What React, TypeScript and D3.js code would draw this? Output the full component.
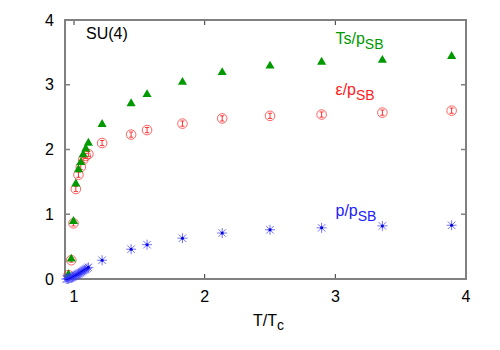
import { useEffect, useRef } from "react";
import * as d3 from "d3";

// Ts / p_SB
const tEntropy = [0.958, 0.979, 0.996, 1.014, 1.034, 1.052, 1.07, 1.09, 1.11, 1.215, 1.437, 1.559, 1.83, 2.134, 2.5, 2.895, 3.36, 3.89];
const entropy = [0.07, 0.31, 0.89, 1.47, 1.69, 1.80, 1.92, 2.01, 2.10, 2.39, 2.71, 2.85, 3.04, 3.19, 3.29, 3.35, 3.38, 3.44];

// eps / p_SB
const tEnergy = [0.958, 0.979, 0.996, 1.014, 1.034, 1.052, 1.07, 1.09, 1.11, 1.215, 1.437, 1.559, 1.83, 2.134, 2.5, 2.895, 3.36, 3.89];
const energy = [0.06, 0.29, 0.86, 1.39, 1.61, 1.73, 1.84, 1.90, 1.93, 2.10, 2.23, 2.30, 2.40, 2.48, 2.52, 2.54, 2.57, 2.60];
const energyErr = [0.03, 0.03, 0.04, 0.04, 0.04, 0.04, 0.04, 0.04, 0.04, 0.04, 0.04, 0.04, 0.04, 0.04, 0.04, 0.04, 0.04, 0.04];

// p / p_SB
const tPressure = [0.94, 0.95, 0.958, 0.968, 0.979, 0.988, 0.996, 1.005, 1.014, 1.024, 1.034, 1.043, 1.052, 1.06, 1.07, 1.08, 1.09, 1.1, 1.11, 1.215, 1.437, 1.559, 1.83, 2.134, 2.5, 2.895, 3.36, 3.89];
const pressure = [0.0, 0.003, 0.005, 0.012, 0.02, 0.03, 0.04, 0.05, 0.06, 0.07, 0.08, 0.09, 0.10, 0.115, 0.13, 0.14, 0.15, 0.165, 0.18, 0.29, 0.46, 0.53, 0.63, 0.71, 0.76, 0.79, 0.82, 0.83];

const xTicks = [1, 2, 3, 4];
const yTicks = [0, 1, 2, 3, 4];

export default function App() {
    const svgRef = useRef<SVGSVGElement>(null);

    useEffect(() => {
        if (!svgRef.current) return;
        const svg = d3.select(svgRef.current);
        svg.selectAll("*").remove();

        const margin = { top: 20, right: 34, bottom: 71, left: 65 };
        const W = 500, H = 350;
        const width = W - margin.left - margin.right;
        const height = H - margin.top - margin.bottom;
        const font = "'Liberation Sans', Arial, sans-serif";

        const g = svg.append("g").attr("transform", `translate(${margin.left},${margin.top})`);

        const x = d3.scaleLinear().domain([0.931, 4]).range([0, width]);
        const y = d3.scaleLinear().domain([0, 4]).range([height, 0]);

        const frameColor = "#808080";
        const tickLen = 5;

        // Ticks (inside, mirrored)
        xTicks.forEach(t => {
            g.append("line").attr("x1", x(t)).attr("x2", x(t)).attr("y1", height).attr("y2", height - tickLen)
                .attr("stroke", "#333").attr("stroke-width", 1);
            g.append("line").attr("x1", x(t)).attr("x2", x(t)).attr("y1", 0).attr("y2", tickLen)
                .attr("stroke", "#333").attr("stroke-width", 1);
            g.append("text").attr("x", x(t)).attr("y", height + 23).attr("text-anchor", "middle")
                .attr("font-family", font).attr("font-size", "16px").attr("fill", "#000").text(t);
        });
        yTicks.forEach(t => {
            g.append("line").attr("x1", 0).attr("x2", tickLen).attr("y1", y(t)).attr("y2", y(t))
                .attr("stroke", frameColor).attr("stroke-width", 1.5);
            g.append("line").attr("x1", width).attr("x2", width - tickLen).attr("y1", y(t)).attr("y2", y(t))
                .attr("stroke", frameColor).attr("stroke-width", 1.5);
            g.append("text").attr("x", -11).attr("y", y(t) + 5.5).attr("text-anchor", "end")
                .attr("font-family", font).attr("font-size", "16px").attr("fill", "#000").text(t);
        });

        // Frame
        g.append("rect").attr("x", 0).attr("y", 0).attr("width", width).attr("height", height)
            .attr("fill", "none").attr("stroke", frameColor).attr("stroke-width", 2);

        // Energy (red circles with error bars)
        const red = "#ff3030";
        tEnergy.forEach((t, i) => {
            const cx = x(t), cy = y(energy[i]);
            const e0 = y(energy[i] - energyErr[i]), e1 = y(energy[i] + energyErr[i]);
            g.append("circle").attr("cx", cx).attr("cy", cy).attr("r", 4.8)
                .attr("fill", "none").attr("stroke", red).attr("stroke-width", 1).attr("opacity", 0.75);
            g.append("line").attr("x1", cx).attr("x2", cx).attr("y1", e0).attr("y2", e1).attr("stroke", red).attr("stroke-width", 1);
            g.append("line").attr("x1", cx - 2).attr("x2", cx + 2).attr("y1", e0).attr("y2", e0).attr("stroke", red).attr("stroke-width", 1);
            g.append("line").attr("x1", cx - 2).attr("x2", cx + 2).attr("y1", e1).attr("y2", e1).attr("stroke", red).attr("stroke-width", 1);
        });

        // Entropy (green triangles)
        const tri = d3.symbol().type(d3.symbolTriangle).size(36)();
        tEntropy.forEach((t, i) => {
            g.append("path").attr("d", tri)
                .attr("transform", `translate(${x(t)},${y(entropy[i])})`)
                .attr("fill", "#009a00");
        });

        // Pressure (blue stars)
        const blue = "#3a3aff";
        const s = 5;
        tPressure.forEach((t, i) => {
            const cx = x(t), cy = y(pressure[i]);
            const arms = [[-s, 0, s, 0], [0, -s, 0, s], [-s * 0.75, -s * 0.75, s * 0.75, s * 0.75], [-s * 0.75, s * 0.75, s * 0.75, -s * 0.75]];
            arms.forEach(([a, b, c, d]) => {
                g.append("line").attr("x1", cx + a).attr("y1", cy + b).attr("x2", cx + c).attr("y2", cy + d)
                    .attr("stroke", blue).attr("stroke-width", 1).attr("opacity", 0.7);
            });
            g.append("circle").attr("cx", cx).attr("cy", cy).attr("r", 1.5).attr("fill", "#0000dd");
        });

        // Series labels
        const label = (px: number, py: number, main: string, color: string) => {
            const txt = g.append("text").attr("x", px).attr("y", py).attr("font-family", font)
                .attr("font-size", "16px").attr("fill", color);
            txt.append("tspan").text(main);
            txt.append("tspan").attr("dy", 5).attr("font-size", "14px").text("SB");
        };
        label(335.5 - margin.left, 44 - margin.top, "Ts/p", "#009a00");
        label(335.5 - margin.left, 95 - margin.top, "\u03b5/p", "#ff2020");
        label(335.5 - margin.left, 216 - margin.top, "p/p", "#2020ff");

        g.append("text").attr("x", 86 - margin.left).attr("y", 39 - margin.top)
            .attr("font-family", font).attr("font-size", "16px").attr("fill", "#000").text("SU(4)");

        // X axis title
        const xt = g.append("text").attr("x", width / 2 + 3).attr("y", height + 47).attr("text-anchor", "middle")
            .attr("font-family", font).attr("font-size", "16px").attr("fill", "#000");
        xt.append("tspan").text("T/T");
        xt.append("tspan").attr("dy", 4).attr("font-size", "14px").text("c");
    }, []);

    return (
        <div style={{ position: "absolute", left: 0, top: 0, width: 500, height: 350, background: "#fff" }}>
            <svg ref={svgRef} width={500} height={350}></svg>
        </div>
    );
}
